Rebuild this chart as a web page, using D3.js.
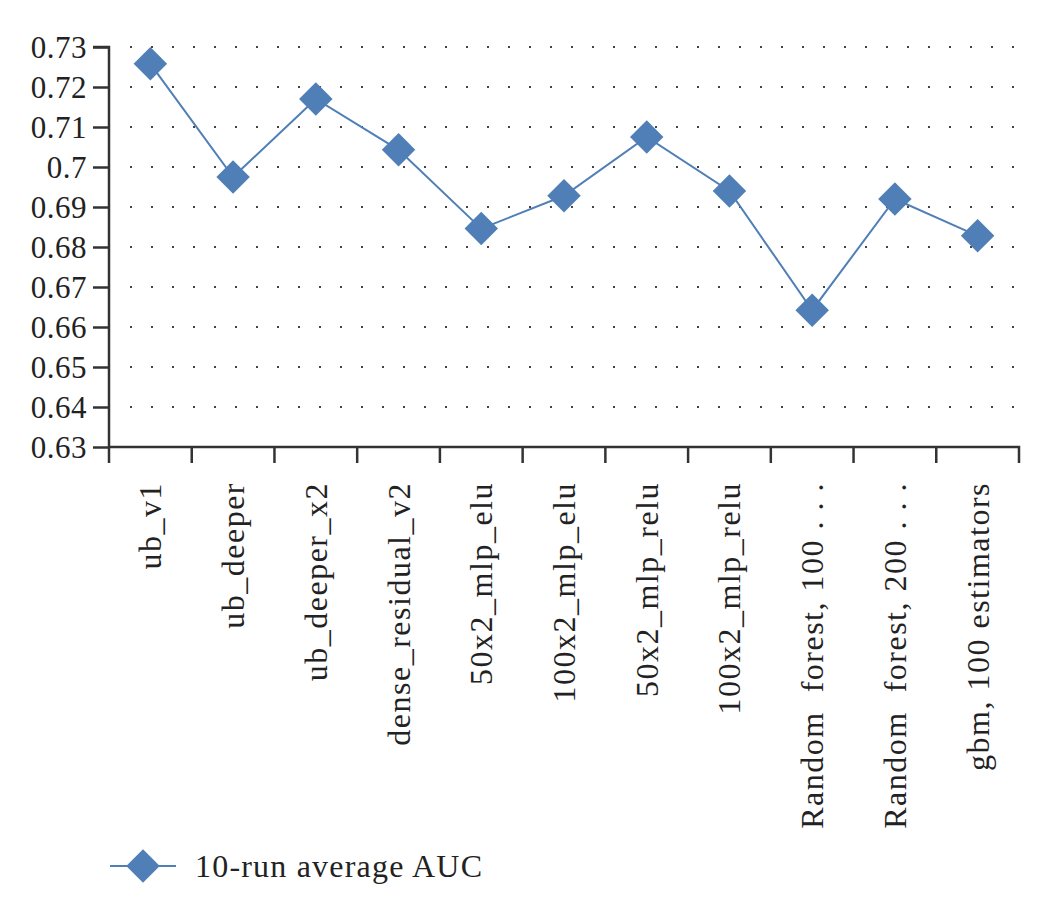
<!DOCTYPE html><html><head><meta charset="utf-8">
<script src="https://cdn.jsdelivr.net/npm/d3@7"></script>
<style>body{margin:0;background:#fff}</style></head><body>
<svg id="c" width="1062" height="904"></svg>
<script>
const categories=["ub_v1","ub_deeper","ub_deeper_x2","dense_residual_v2","50x2_mlp_elu","100x2_mlp_elu","50x2_mlp_relu","100x2_mlp_relu","Random  forest, 100 . . .","Random  forest, 200 . . .","gbm, 100 estimators"];
const values=[0.7258,0.6975,0.7170,0.7043,0.6846,0.6928,0.7075,0.6940,0.6642,0.6920,0.6828];
const yTicks=[0.63,0.64,0.65,0.66,0.67,0.68,0.69,0.7,0.71,0.72,0.73];
const seriesName="10-run average AUC";
const color="#4f7fb6";
const svg=d3.select("#c");
const L=109,R=1019,T=47,B=447;
const x=d3.scaleBand().domain(categories).range([L,R]);
const y=d3.scaleLinear().domain([0.63,0.73]).range([B,T]);
const font="'Liberation Serif', serif";
svg.append("g").selectAll("line").data(yTicks.slice(1)).join("line")
 .attr("x1",L+2).attr("x2",R).attr("y1",d=>y(d)).attr("y2",d=>y(d))
 .attr("stroke","#444").attr("stroke-width",2).attr("stroke-dasharray","2,19").attr("stroke-dashoffset",-19);
const ya=svg.append("g").attr("transform",`translate(${L},0)`)
 .call(d3.axisLeft(y).tickValues(yTicks).tickSize(16).tickFormat(d=>String(+d.toFixed(2))));
ya.select(".domain").attr("stroke","#333").attr("stroke-width",2.5).attr("d",`M-16,${T}H0V${B}`);
ya.selectAll(".tick line").attr("stroke","#333").attr("stroke-width",2.5);
ya.selectAll("text").attr("font-family",font).attr("font-size",31).attr("fill","#222").attr("x",-22).attr("text-anchor","end").attr("dy","0.34em").attr("letter-spacing",0.5);
const xa=svg.append("g").attr("transform",`translate(0,${B})`)
 .call(d3.axisBottom(x).tickSize(0).tickFormat(""));
xa.select(".domain").attr("stroke","#333").attr("stroke-width",2.5).attr("d",`M${L},0H${R}V16`);
svg.append("g").selectAll("line").data(categories).join("line")
 .attr("x1",d=>x(d)).attr("x2",d=>x(d)).attr("y1",B).attr("y2",B+16).attr("stroke","#333").attr("stroke-width",2.5);
svg.append("g").selectAll("text").data(categories).join("text")
 .attr("transform",d=>`translate(${x(d)+x.bandwidth()/2+11},482) rotate(-90)`)
 .attr("text-anchor","end").attr("font-family",font).attr("font-size",32).attr("letter-spacing",1.5).attr("fill","#222")
 .style("white-space","pre").text(d=>d);
svg.append("path").datum(values).attr("fill","none").attr("stroke",color).attr("stroke-width",2)
 .attr("d",d3.line().x((d,i)=>x(categories[i])+x.bandwidth()/2).y(d=>y(d)));
const diamond=d3.symbol().type(d3.symbolSquare).size(560);
svg.append("g").selectAll("path").data(values).join("path")
 .attr("d",diamond).attr("fill",color)
 .attr("transform",(d,i)=>`translate(${x(categories[i])+x.bandwidth()/2},${y(d)}) rotate(45)`);
svg.append("line").attr("x1",110).attr("x2",176).attr("y1",866).attr("y2",866).attr("stroke",color).attr("stroke-width",2);
svg.append("path").attr("d",diamond).attr("fill",color).attr("transform","translate(143,866) rotate(45)");
svg.append("text").attr("x",195).attr("y",877).attr("font-family",font).attr("font-size",32).attr("letter-spacing",1.2).attr("fill","#222").text(seriesName);
</script></body></html>
